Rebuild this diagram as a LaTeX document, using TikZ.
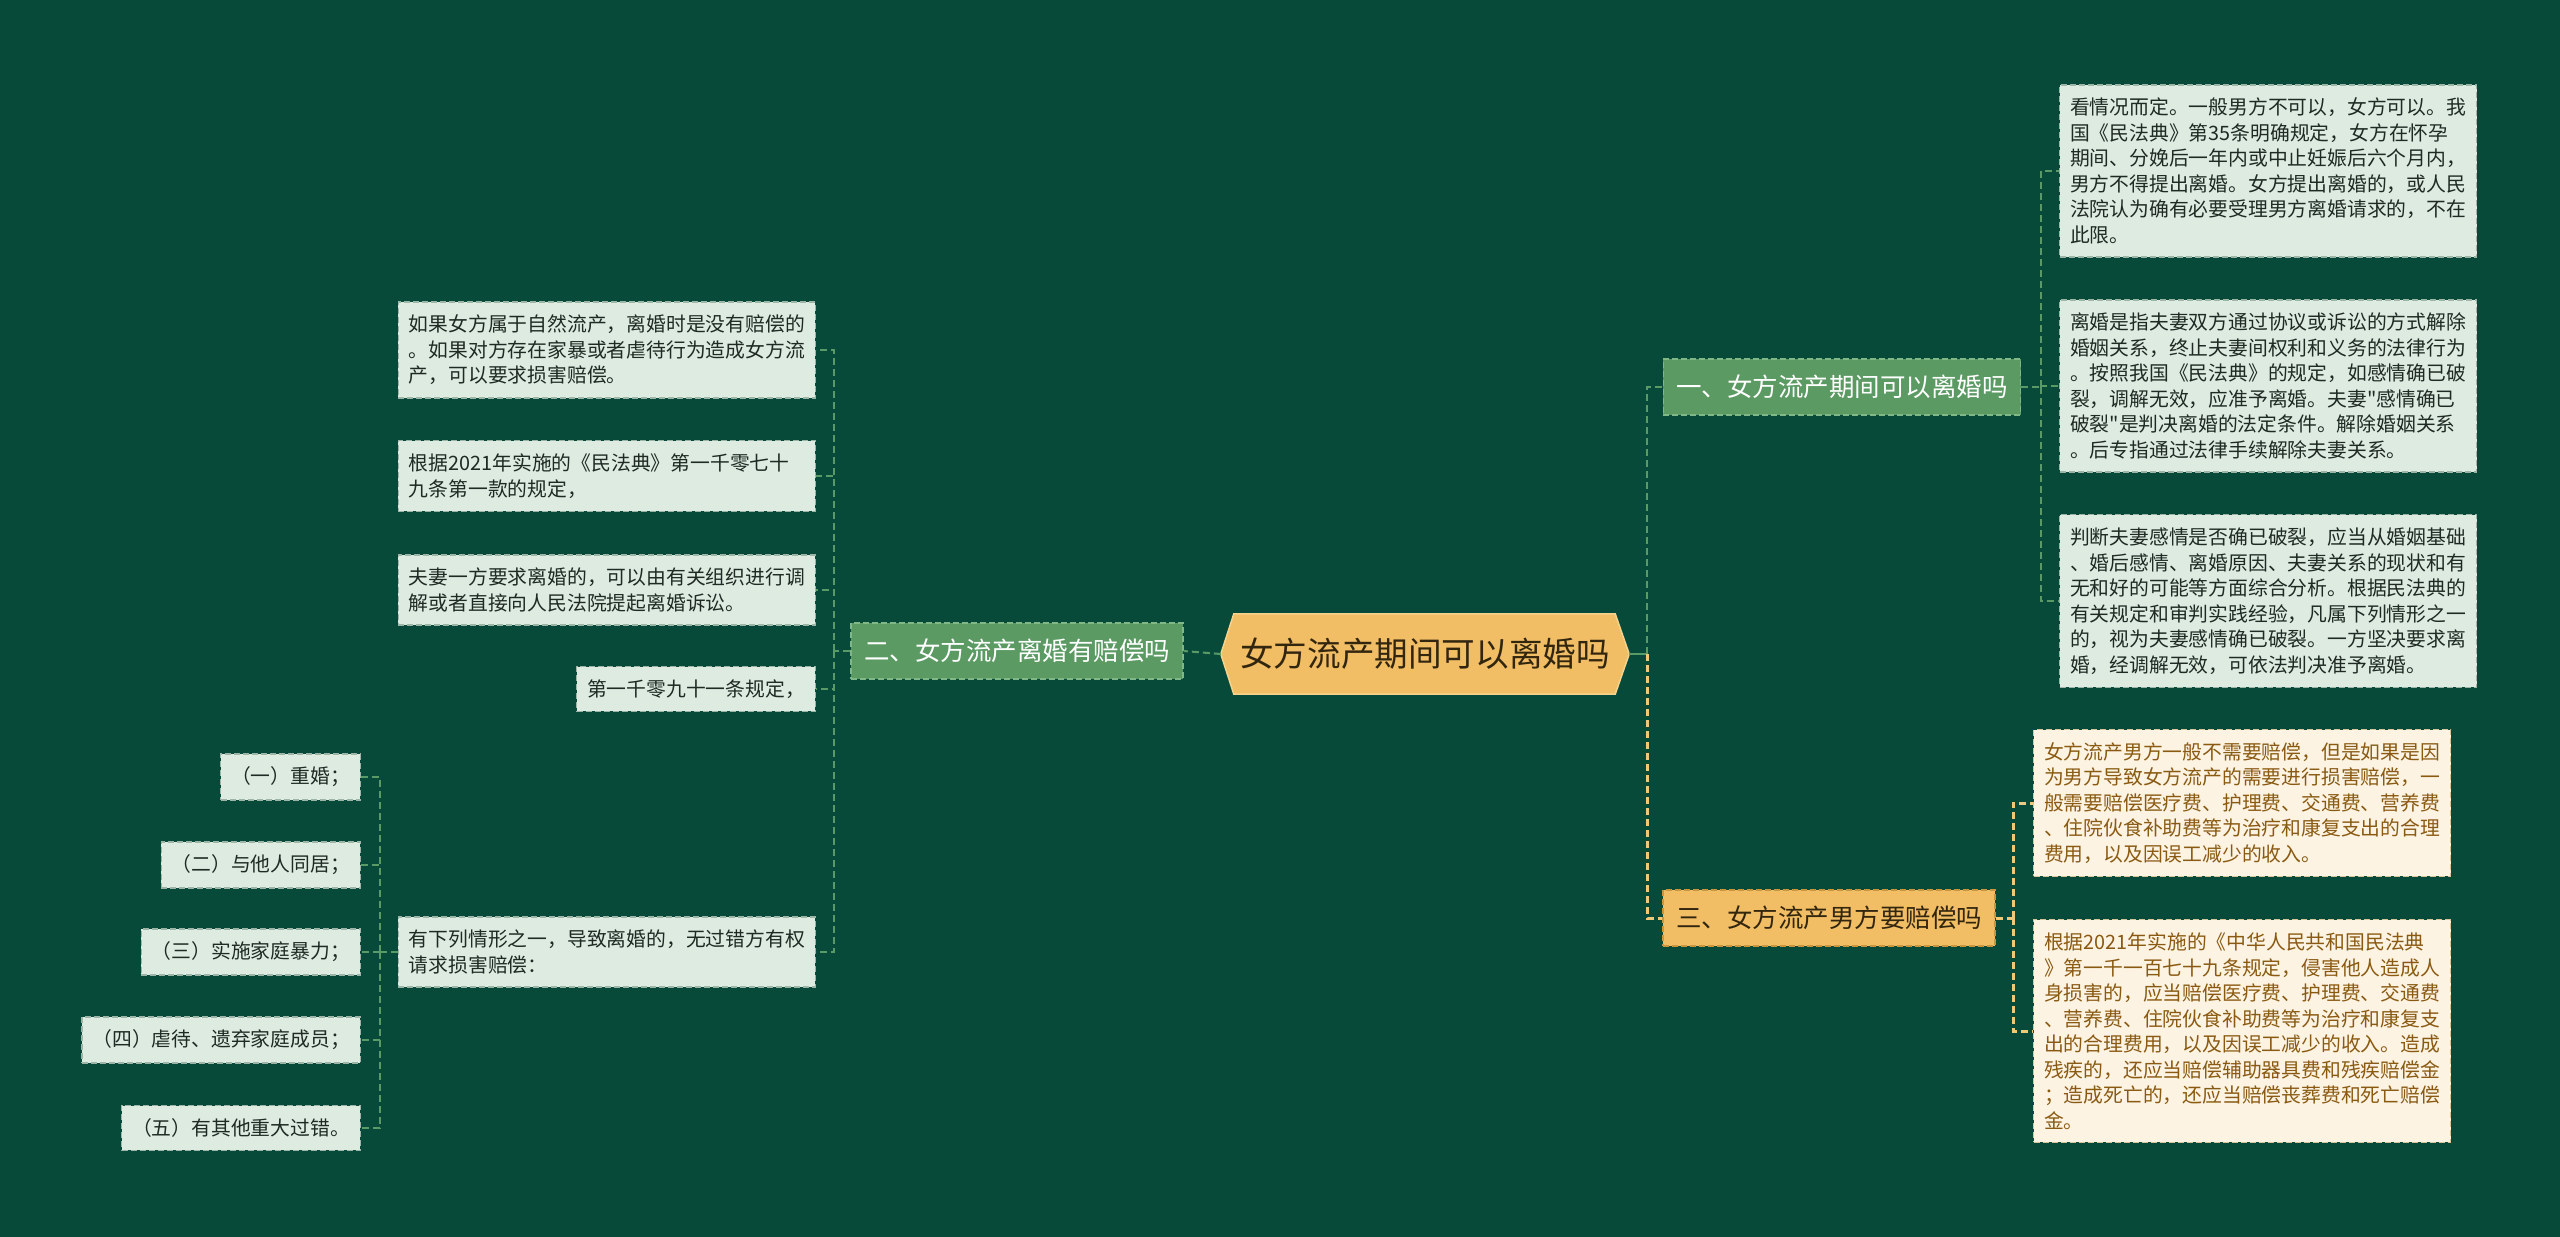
\documentclass[tikz,border=0pt]{standalone}
\usepackage{fontspec}
\setmainfont{Noto Sans CJK SC}[Ligatures=TeXOff]
\usetikzlibrary{backgrounds}
\definecolor{bg}{HTML}{084A3A}
\definecolor{leaffill}{HTML}{DDEBE1}
\definecolor{leafline}{HTML}{9CB5A6}
\definecolor{leaftext}{HTML}{1E2A23}
\definecolor{yleaffill}{HTML}{FCF3E2}
\definecolor{yleafline}{HTML}{D6C59C}
\definecolor{yleaftext}{HTML}{8A5A12}
\definecolor{brfill}{HTML}{5B9A63}
\definecolor{brline}{HTML}{7FB787}
\definecolor{ybrfill}{HTML}{F1BD65}
\definecolor{ybrline}{HTML}{C9963E}
\definecolor{ybrtext}{HTML}{33260F}
\definecolor{rootline}{HTML}{F6D38C}
\definecolor{linkg}{HTML}{5A9A66}
\definecolor{linky}{HTML}{EEC97A}

\begin{document}
\begin{tikzpicture}[x=1pt,y=-1pt,
 leaf/.style={draw=leafline,dash pattern=on 6pt off 3pt,line width=1.2pt,fill=leaffill,text=leaftext,align=left,inner xsep=10.5pt,inner ysep=13pt,font=\fontsize{19.8}{25.5}\selectfont},
 gleaf/.style={leaf,text width=396pt},
 yleaf/.style={leaf,text width=396pt,draw=yleafline,fill=yleaffill,text=yleaftext},
 branch/.style={draw=brline,dash pattern=on 6pt off 3pt,line width=1.2pt,fill=brfill,text=white,inner xsep=13pt,inner ysep=16pt,font=\fontsize{25.5}{30}\selectfont},
 ybranch/.style={branch,draw=ybrline,fill=ybrfill,text=ybrtext},
 link/.style={draw=linkg,line width=2pt,dash pattern=on 7pt off 4pt},
 ylink/.style={link,draw=linky,line width=3pt}]
\useasboundingbox (0,0) rectangle (2560,1237);
\begin{scope}[on background layer]
\fill[bg] (0,0) rectangle (2560,1237);
\end{scope}

\node[minimum width=408pt,minimum height=80pt,inner sep=0pt,text=ybrtext,font=\fontsize{33.6}{40}\selectfont] (root) at (1425,654) {女方流产期间可以离婚吗};
\begin{scope}[on background layer]
\filldraw[fill=ybrfill,draw=rootline,line width=1.5pt] (root.west) -- ([xshift=13pt]root.north west) -- ([xshift=-14pt]root.north east) -- (root.east) -- ([xshift=-14pt]root.south east) -- ([xshift=13pt]root.south west) -- cycle;
\end{scope}

\node[branch] (b1) at (1842,387) {一、女方流产期间可以离婚吗};
\node[branch] (b2) at (1017,651) {二、女方流产离婚有赔偿吗};
\node[ybranch] (b3) at (1829,918) {三、女方流产男方要赔偿吗};

\node[gleaf,anchor=west] (a1) at (2059,171) {看情况而定。一般男方不可以，女方可以。我\\国《民法典》第35条明确规定，女方在怀孕\\期间、分娩后一年内或中止妊娠后六个月内，\\男方不得提出离婚。女方提出离婚的，或人民\\法院认为确有必要受理男方离婚请求的，不在\\此限。};
\node[gleaf,anchor=west] (a2) at (2059,386) {离婚是指夫妻双方通过协议或诉讼的方式解除\\婚姻关系，终止夫妻间权利和义务的法律行为\\。按照我国《民法典》的规定，如感情确已破\\裂，调解无效，应准予离婚。夫妻"感情确已\\破裂"是判决离婚的法定条件。解除婚姻关系\\。后专指通过法律手续解除夫妻关系。};
\node[gleaf,anchor=west] (a3) at (2059,601) {判断夫妻感情是否确已破裂，应当从婚姻基础\\、婚后感情、离婚原因、夫妻关系的现状和有\\无和好的可能等方面综合分析。根据民法典的\\有关规定和审判实践经验，凡属下列情形之一\\的，视为夫妻感情确已破裂。一方坚决要求离\\婚，经调解无效，可依法判决准予离婚。};

\node[yleaf,anchor=west] (c1) at (2033,803) {女方流产男方一般不需要赔偿，但是如果是因\\为男方导致女方流产的需要进行损害赔偿，一\\般需要赔偿医疗费、护理费、交通费、营养费\\、住院伙食补助费等为治疗和康复支出的合理\\费用，以及因误工减少的收入。};
\node[yleaf,anchor=west] (c2) at (2033,1031) {根据2021年实施的《中华人民共和国民法典\\》第一千一百七十九条规定，侵害他人造成人\\身损害的，应当赔偿医疗费、护理费、交通费\\、营养费、住院伙食补助费等为治疗和康复支\\出的合理费用，以及因误工减少的收入。造成\\残疾的，还应当赔偿辅助器具费和残疾赔偿金\\；造成死亡的，还应当赔偿丧葬费和死亡赔偿\\金。};

\node[gleaf,anchor=east] (l1) at (816,350) {如果女方属于自然流产，离婚时是没有赔偿的\\。如果对方存在家暴或者虐待行为造成女方流\\产，可以要求损害赔偿。};
\node[gleaf,anchor=east] (l2) at (816,476) {根据2021年实施的《民法典》第一千零七十\\九条第一款的规定，};
\node[gleaf,anchor=east] (l3) at (816,590) {夫妻一方要求离婚的，可以由有关组织进行调\\解或者直接向人民法院提起离婚诉讼。};
\node[leaf,anchor=east] (l4) at (816,689) {第一千零九十一条规定，};
\node[gleaf,anchor=east] (l5) at (816,952) {有下列情形之一，导致离婚的，无过错方有权\\请求损害赔偿：};

\node[leaf,anchor=east] (s1) at (361,777) {（一）重婚；};
\node[leaf,anchor=east] (s2) at (361,865) {（二）与他人同居；};
\node[leaf,anchor=east] (s3) at (361,952) {（三）实施家庭暴力；};
\node[leaf,anchor=east] (s4) at (361,1040) {（四）虐待、遗弃家庭成员；};
\node[leaf,anchor=east] (s5) at (361,1128) {（五）有其他重大过错。};

\coordinate (rj) at (1647,654);
\coordinate (b1j) at (2041,387);
\coordinate (b2j) at (834,651);
\coordinate (b3j) at (2013,918);
\coordinate (l5j) at (380,952);

\draw[link] (root.west) -- (b2.east);
\draw[link,solid] (root.east) -- (rj);
\draw[link] (rj) |- (b1.west);
\draw[ylink] (rj) |- (b3.west);

\draw[link] (b1.east) -- (b1j);
\foreach \n in {a1,a2,a3} \draw[link] (b1j) |- (\n.west);
\draw[ylink] (b3.east) -- (b3j);
\foreach \n in {c1,c2} \draw[ylink] (b3j) |- (\n.west);
\draw[link] (b2.west) -- (b2j);
\foreach \n in {l1,l2,l3,l4,l5} \draw[link] (b2j) |- (\n.east);
\draw[link] (l5.west) -- (l5j);
\foreach \n in {s1,s2,s3,s4,s5} \draw[link] (l5j) |- (\n.east);
\end{tikzpicture}
\end{document}
